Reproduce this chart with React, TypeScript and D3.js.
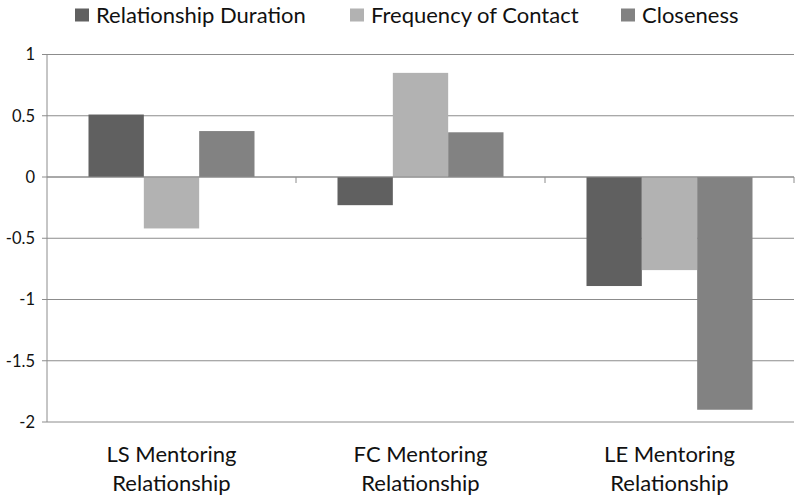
import React from "react";
import * as d3 from "d3";

const categories = ["LS Mentoring Relationship", "FC Mentoring Relationship", "LE Mentoring Relationship"];
const categoryLines = [["LS Mentoring", "Relationship"], ["FC Mentoring", "Relationship"], ["LE Mentoring", "Relationship"]];
const seriesNames = ["Relationship Duration", "Frequency of Contact", "Closeness"];
const relationshipDuration = [0.51, -0.23, -0.89];
const frequencyOfContact = [-0.42, 0.85, -0.76];
const closeness = [0.375, 0.365, -1.9];
const yTicks = [1, 0.5, 0, -0.5, -1, -1.5, -2];
const colors = ["#606060", "#b2b2b2", "#828282"];

export default function App() {
  const W = 800, H = 500;
  const left = 47, right = 794, top = 54.5, bottom = 422;
  const font = "Lato, 'Open Sans', sans-serif";
  const series = [relationshipDuration, frequencyOfContact, closeness];
  const y = d3.scaleLinear().domain([-2, 1]).range([bottom, top]);
  const x0 = d3.scaleBand().domain(categories).range([left, right]).paddingInner(0).paddingOuter(0);
  const x1 = d3.scaleBand().domain(seriesNames).range([x0.bandwidth() / 6, x0.bandwidth() * 5 / 6]);
  const legendX = [75, 350, 621];
  return (
    <svg width={W} height={H} style={{ position: "absolute", left: 0, top: 0, background: "#fff" }} fontFamily={font}>
      {yTicks.map((t) => (
        <g key={t}>
          <line x1={left - 5} x2={right} y1={y(t)} y2={y(t)} stroke="#8c8c8c" strokeWidth={1} />
          <text x={left - 12} y={y(t)} dy="0.35em" textAnchor="end" fontSize={16.5} fill="#111">{t}</text>
        </g>
      ))}
      <line x1={left} x2={left} y1={top} y2={bottom} stroke="#8c8c8c" />
      {categories.map((c, i) => (
        <g key={c}>
          {seriesNames.map((s, j) => {
            const v = series[j][i];
            return (
              <rect key={s} x={x0(c)! + x1(s)!} width={x1.bandwidth()} y={y(Math.max(0, v))} height={Math.abs(y(v) - y(0))} fill={colors[j]} />
            );
          })}
        </g>
      ))}
      <line x1={left} x2={right} y1={y(0)} y2={y(0)} stroke="#8c8c8c" />
      {categories.map((c) => (
        <line key={c} x1={x0(c)! + x0.bandwidth()} x2={x0(c)! + x0.bandwidth()} y1={y(0)} y2={y(0) + 6} stroke="#8c8c8c" />
      ))}
      {categories.map((c, i) => (
        <text key={c} x={x0(c)! + x0.bandwidth() / 2} textAnchor="middle" fontSize={22} fill="#111">
          {categoryLines[i].map((ln, k) => (
            <tspan key={k} x={x0(c)! + x0.bandwidth() / 2} y={462 + k * 29}>{ln}</tspan>
          ))}
        </text>
      ))}
      {seriesNames.map((s, j) => (
        <g key={s}>
          <rect x={legendX[j]} y={8.5} width={14} height={13} fill={colors[j]} />
          <text x={legendX[j] + 21} y={22.5} fontSize={22} fill="#111">{s}</text>
        </g>
      ))}
    </svg>
  );
}
